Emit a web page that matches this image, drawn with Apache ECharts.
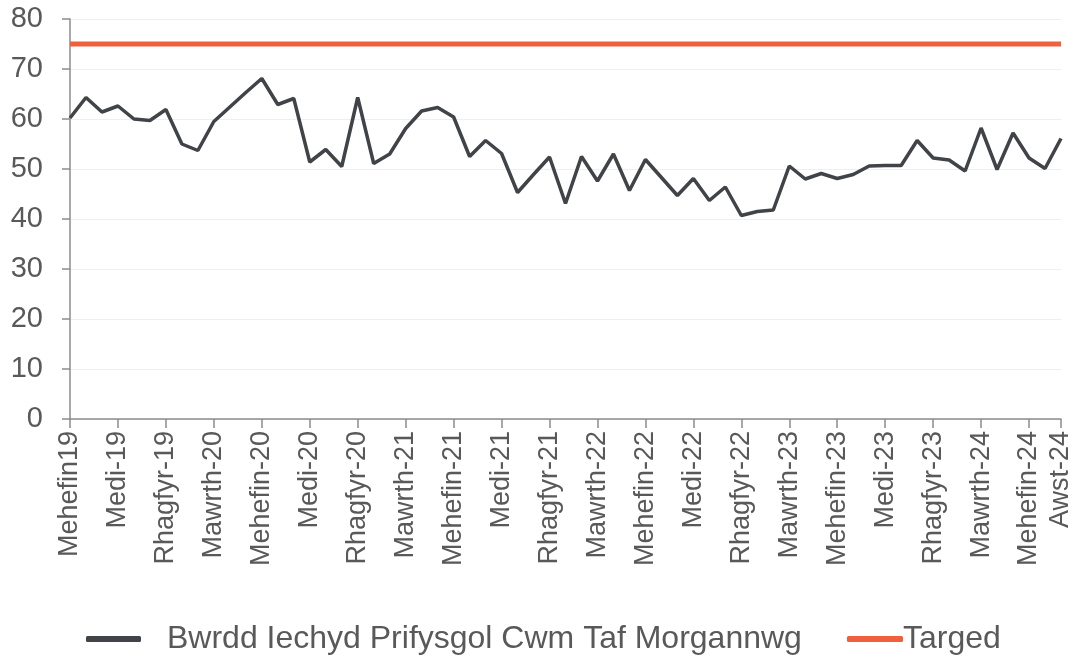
<!DOCTYPE html>
<html>
<head>
<meta charset="utf-8">
<script src="https://cdn.jsdelivr.net/npm/echarts@6/dist/echarts.min.js"></script>
<style>
html,body{margin:0;padding:0;background:#fff;}
#chart{width:1087px;height:658px;}
</style>
</head>
<body>
<div id="chart"></div>
<script>
const categories = [
  "Mehefin19","Gorffennaf-19","Awst-19","Medi-19","Hydref-19","Tachwedd-19","Rhagfyr-19","Ionawr-20","Chwefror-20",
  "Mawrth-20","Ebrill-20","Mai-20","Mehefin-20","Gorffennaf-20","Awst-20","Medi-20","Hydref-20","Tachwedd-20",
  "Rhagfyr-20","Ionawr-21","Chwefror-21","Mawrth-21","Ebrill-21","Mai-21","Mehefin-21","Gorffennaf-21","Awst-21",
  "Medi-21","Hydref-21","Tachwedd-21","Rhagfyr-21","Ionawr-22","Chwefror-22","Mawrth-22","Ebrill-22","Mai-22",
  "Mehefin-22","Gorffennaf-22","Awst-22","Medi-22","Hydref-22","Tachwedd-22","Rhagfyr-22","Ionawr-23","Chwefror-23",
  "Mawrth-23","Ebrill-23","Mai-23","Mehefin-23","Gorffennaf-23","Awst-23","Medi-23","Hydref-23","Tachwedd-23",
  "Rhagfyr-23","Ionawr-24","Chwefror-24","Mawrth-24","Ebrill-24","Mai-24","Mehefin-24","Gorffennaf-24","Awst-24"
];
const healthBoardValues = [
  60.2,64.3,61.4,62.6,60.0,59.7,61.9,55.0,53.7,
  59.5,62.4,65.3,68.1,62.9,64.1,51.4,53.9,50.5,
  64.3,51.1,53.0,58.1,61.6,62.3,60.4,52.5,55.7,
  53.1,45.3,48.9,52.4,43.1,52.5,47.6,53.0,45.7,
  51.9,48.3,44.7,48.1,43.7,46.4,40.7,41.5,41.8,
  50.6,48.0,49.1,48.1,48.9,50.6,50.7,50.7,55.7,
  52.2,51.8,49.6,58.2,49.9,57.2,52.2,50.1,56.1
];
const targetValue = 75;
const targetValues = categories.map(() => targetValue);
const seriesNames = ["Bwrdd Iechyd Prifysgol Cwm Taf Morgannwg", "Targed"];
const yTicks = { min: 0, max: 80, interval: 10 };

const showLabel = (idx) => idx % 3 === 0 || idx === categories.length - 1;
const FONT = "'Liberation Sans', Arial, sans-serif";
const chart = echarts.init(document.getElementById('chart'), null, {renderer: 'canvas'});
chart.setOption({
  animation: false,
  backgroundColor: '#ffffff',
  textStyle: { fontFamily: FONT },
  grid: { left: 70, right: 26, top: 19, bottom: 239, containLabel: false },
  legend: [
    {
      data: [seriesNames[0]], left: 81, top: 618, icon: 'roundRect',
      itemWidth: 55, itemHeight: 6,
      textStyle: { fontSize: 32, color: '#595959', fontFamily: FONT, padding: [0,0,0,21] }
    },
    {
      data: [seriesNames[1]], left: 842, top: 618, icon: 'roundRect',
      itemWidth: 56, itemHeight: 6,
      textStyle: { fontSize: 32, color: '#595959', fontFamily: FONT, padding: [0,0,0,-5] }
    }
  ],
  xAxis: {
    type: 'category',
    data: categories,
    boundaryGap: false,
    axisLine: { lineStyle: { color: '#8c8c8c', width: 1.5 } },
    axisTick: { show: true, interval: (i) => showLabel(i), length: 9, lineStyle: { color: '#8c8c8c', width: 1.5 } },
    axisLabel: {
      interval: (i) => showLabel(i), rotate: 90, fontSize: 27, color: '#595959',
      margin: 12, fontFamily: FONT
    },
    splitLine: { show: false }
  },
  yAxis: {
    type: 'value',
    min: yTicks.min, max: yTicks.max, interval: yTicks.interval,
    axisLine: { show: true, lineStyle: { color: '#8c8c8c', width: 1.5 } },
    axisTick: { show: true, length: 8, lineStyle: { color: '#8c8c8c', width: 1.5 } },
    axisLabel: { fontSize: 29, color: '#595959', margin: 27, fontFamily: FONT },
    splitLine: { show: true, lineStyle: { color: '#efefef', width: 1 } }
  },
  series: [
    {
      name: seriesNames[0], type: 'line', data: healthBoardValues,
      symbol: 'none', color: '#404347',
      lineStyle: { color: '#404347', width: 3.5 }
    },
    {
      name: seriesNames[1], type: 'line', data: targetValues,
      symbol: 'none', color: '#F0603E',
      lineStyle: { color: '#F0603E', width: 5 }
    }
  ]
});
</script>
</body>
</html>
